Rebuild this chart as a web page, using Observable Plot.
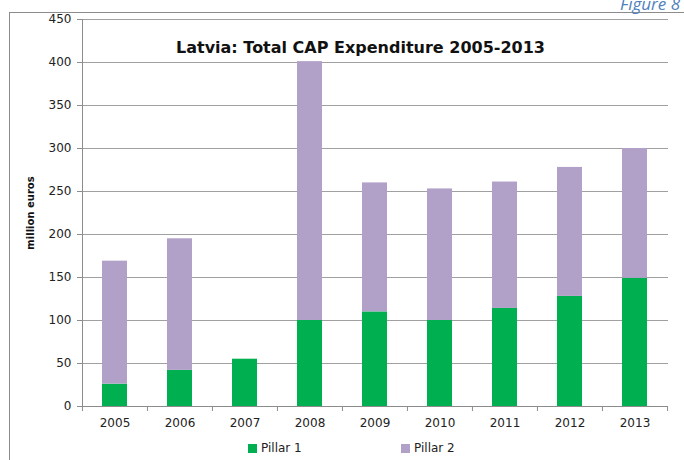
<!DOCTYPE html>
<html>
<head>
<meta charset="utf-8">
<script src="https://cdn.jsdelivr.net/npm/d3@7"></script>
<script src="https://cdn.jsdelivr.net/npm/@observablehq/plot@0.6"></script>
<style>
  html, body { margin: 0; padding: 0; background: #fff; }
  #wrap { position: relative; width: 684px; height: 460px; overflow: hidden; font-family: "DejaVu Sans", sans-serif; }
  #border { position: absolute; left: 9px; top: 12px; right: -5px; bottom: -5px; border: 1.5px solid #8c8c8c; }
  #fig { position: absolute; right: 4px; top: -8px; font-style: italic; color: #4f81bd; font-size: 17px; font-family: "Open Sans", sans-serif; }
  #chart { position: absolute; left: 0; top: 0; }
  #legend { position: absolute; left: 0; top: 441px; width: 684px; height: 19px; font-size: 12px; color: #222; }
  .item { position: absolute; top: 0; display: flex; align-items: center; gap: 4px; }
  .sw { width: 9px; height: 9px; display: inline-block; }
</style>
</head>
<body>
<div id="wrap">
  <div id="border"></div>
  <div id="fig">Figure 8</div>
  <div id="chart"></div>
  <div id="legend"></div>
</div>
<script>
const years = ["2005","2006","2007","2008","2009","2010","2011","2012","2013"];
const pillar1 = [26, 42, 55, 100, 110, 100, 114, 128, 149];
const pillar2 = [143, 153, 0, 301, 150, 153, 147, 150, 151];
const series = ["Pillar 1", "Pillar 2"];
const colors = ["#00b050", "#b1a1c8"];
const yTicks = [0, 50, 100, 150, 200, 250, 300, 350, 400, 450];
const title = "Latvia: Total CAP Expenditure 2005-2013";
const yLabel = "million euros";

const data = [];
years.forEach((y, i) => {
  data.push({year: y, pillar: series[0], value: pillar1[i]});
  data.push({year: y, pillar: series[1], value: pillar2[i]});
});

const W = 684, H = 436, ML = 82, MR = 16, MT = 19, MB = 30;
const step = (W - ML - MR) / years.length;

const chart = Plot.plot({
  width: W,
  height: H,
  marginLeft: ML,
  marginRight: MR,
  marginTop: MT,
  marginBottom: MB,
  style: {fontFamily: "DejaVu Sans, sans-serif", fontSize: "12px", color: "#222", background: "transparent"},
  x: {domain: years, paddingInner: 0.615, paddingOuter: 0.3075, label: null},
  y: {domain: [0, 450], ticks: yTicks, label: null},
  color: {domain: series, range: colors},
  marks: [
    Plot.gridY(yTicks, {stroke: "#a0a0a0", strokeOpacity: 1, strokeWidth: 1}),
    Plot.barY(data, {x: "year", y: "value", fill: "pillar"}),
    Plot.ruleY([0], {stroke: "#8c8c8c", strokeWidth: 1}),
    Plot.frame({anchor: "left", stroke: "#8c8c8c"}),
    Plot.ruleX(years, {x: d => d, y1: 0, y2: 0, dx: -step / 2, insetBottom: -5, stroke: "#8c8c8c"}),
    Plot.ruleX([years[years.length - 1]], {x: d => d, y1: 0, y2: 0, dx: step / 2, insetBottom: -5, stroke: "#8c8c8c"}),
    Plot.axisY(yTicks, {tickSize: 5, tickPadding: 6, stroke: "#8c8c8c", fill: "#222", fontSize: 12}),
    Plot.axisX({tickSize: 0, tickPadding: 12, fill: "#222", fontSize: 12}),
    Plot.text([title], {frameAnchor: "top", dy: 22, dx: -15, fontWeight: "bold", fontSize: 16, fill: "#111"}),
    Plot.text([yLabel], {frameAnchor: "left", textAnchor: "middle", dx: -52, rotate: -90, fontWeight: "bold", fontSize: 10, fill: "#111"})
  ]
});
document.getElementById("chart").appendChild(chart);

const legend = document.getElementById("legend");
const lx = [248, 401];
series.forEach((s, i) => {
  const it = document.createElement("div");
  it.className = "item";
  it.style.left = lx[i] + "px";
  it.innerHTML = `<span class="sw" style="background:${colors[i]}"></span><span>${s}</span>`;
  legend.appendChild(it);
});
</script>
</body>
</html>
